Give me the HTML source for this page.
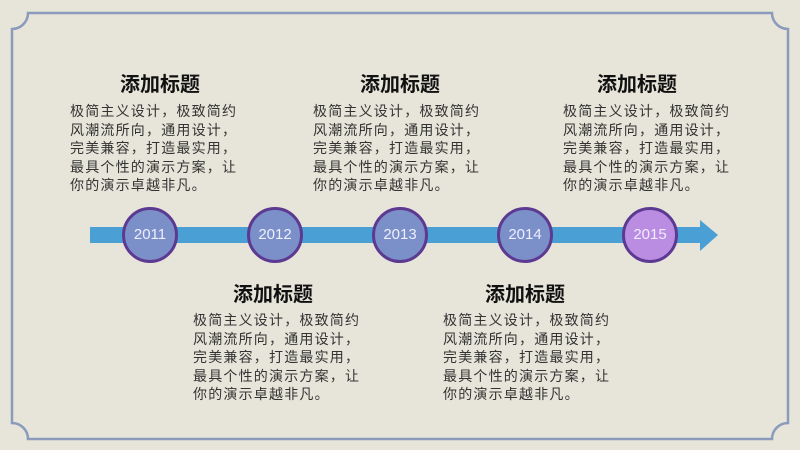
<!DOCTYPE html>
<html><head><meta charset="utf-8"><style>
body{margin:0;width:800px;height:450px;background:#e7e5d9;position:relative;overflow:hidden;font-family:"Liberation Sans","Noto Sans CJK SC",sans-serif}
.t{position:absolute;font-weight:bold;font-size:20px;color:#111;text-align:center;width:200px}
.b{position:absolute;font-size:14px;letter-spacing:1.2px;line-height:18.5px;color:#333;width:200px;white-space:nowrap}
.c{position:absolute;width:50px;height:50px;border-radius:50%;border:3px solid #5d3a92;background:#7b8fc8;color:#eef;font-size:15px;text-align:center;line-height:50px}
</style></head><body>
<svg width="800" height="450" style="position:absolute;left:0;top:0">
<path d="M28 13 H772 A16 16 0 0 0 788 29 V423 A16 16 0 0 0 772 439 H28 A16 16 0 0 0 12 423 V29 A16 16 0 0 0 28 13 Z" fill="none" stroke="#8b9bbb" stroke-width="2.5"/>
<rect x="90" y="227" width="612" height="16" fill="#4a9fd4"/>
<polygon points="700,220 718,235 700,251" fill="#4a9fd4"/>
</svg>
<div class="c" style="left:122px;top:207px">2011</div>
<div class="c" style="left:247px;top:207px">2012</div>
<div class="c" style="left:372px;top:207px">2013</div>
<div class="c" style="left:497px;top:207px">2014</div>
<div class="c" style="left:622px;top:207px;background:#bb8de2">2015</div>

<div class="t" style="left:60px;top:68px">添加标题</div>
<div class="b" style="left:70px;top:102px">极简主义设计，极致简约<br>风潮流所向，通用设计，<br>完美兼容，打造最实用，<br>最具个性的演示方案，让<br>你的演示卓越非凡。</div>
<div class="t" style="left:300px;top:68px">添加标题</div>
<div class="b" style="left:313px;top:102px">极简主义设计，极致简约<br>风潮流所向，通用设计，<br>完美兼容，打造最实用，<br>最具个性的演示方案，让<br>你的演示卓越非凡。</div>
<div class="t" style="left:537px;top:68px">添加标题</div>
<div class="b" style="left:563px;top:102px">极简主义设计，极致简约<br>风潮流所向，通用设计，<br>完美兼容，打造最实用，<br>最具个性的演示方案，让<br>你的演示卓越非凡。</div>

<div class="t" style="left:173px;top:278px">添加标题</div>
<div class="b" style="left:193px;top:311px">极简主义设计，极致简约<br>风潮流所向，通用设计，<br>完美兼容，打造最实用，<br>最具个性的演示方案，让<br>你的演示卓越非凡。</div>
<div class="t" style="left:425px;top:278px">添加标题</div>
<div class="b" style="left:443px;top:311px">极简主义设计，极致简约<br>风潮流所向，通用设计，<br>完美兼容，打造最实用，<br>最具个性的演示方案，让<br>你的演示卓越非凡。</div>
</body></html>
